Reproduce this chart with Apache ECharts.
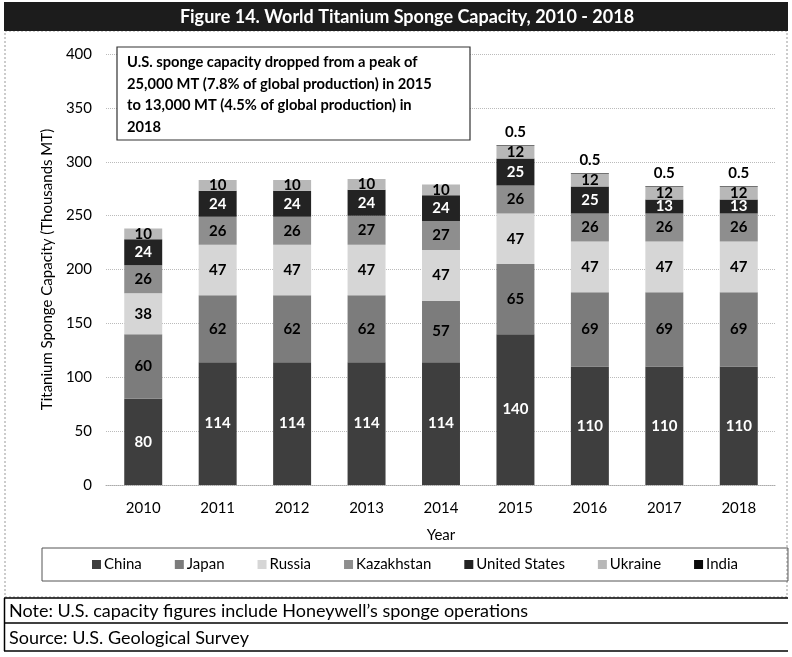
<!DOCTYPE html>
<html>
<head>
<meta charset="utf-8">
<script src="https://cdn.jsdelivr.net/npm/echarts@6/dist/echarts.min.js"></script>
<style>
html,body{margin:0;padding:0;background:#fff;}
#c{width:792px;height:657px;}
</style>
</head>
<body>
<div id="c"></div>
<script>
const years = ['2010','2011','2012','2013','2014','2015','2016','2017','2018'];
const china      = [80, 114, 114, 114, 114, 140, 110, 110, 110];
const japan      = [60, 62, 62, 62, 57, 65, 69, 69, 69];
const russia     = [38, 47, 47, 47, 47, 47, 47, 47, 47];
const kazakhstan = [26, 26, 26, 27, 27, 26, 26, 26, 26];
const us         = [24, 24, 24, 24, 24, 25, 25, 13, 13];
const ukraine    = [10, 10, 10, 10, 10, 12, 12, 12, 12];
const india      = [0, 0, 0, 0, 0, 0.5, 0.5, 0.5, 0.5];
const yTicks = [0, 50, 100, 150, 200, 250, 300, 350, 400];

const FONT = 'Lato, "Liberation Sans", sans-serif';
const chart = echarts.init(document.getElementById('c'));

function mk(name, data, color, labelColor, pos) {
  return {
    name: name, type: 'bar', stack: 'total', data: data, barWidth: '51%',
    itemStyle: { color: color },
    label: {
      show: true, position: pos || 'inside', color: labelColor,
      fontFamily: FONT, fontWeight: 'bold', fontSize: 15,
      formatter: p => (p.value === 0 ? '' : String(p.value))
    }
  };
}

chart.setOption({
  animation: false,
  textStyle: { fontFamily: FONT },
  grid: { left: 106, right: 16, top: 54, bottom: 172 },
  legend: {
    left: 42, top: 548, width: 715,
    padding: [9, 50, 9, 50],
    itemGap: 33, itemWidth: 9, itemHeight: 9,
    borderColor: '#555', borderWidth: 1,
    icon: 'rect',
    textStyle: { fontFamily: FONT, fontSize: 15, color: '#000', padding: [0, 0, 0, -2] },
    data: ['China','Japan','Russia','Kazakhstan','United States','Ukraine','India']
  },
  xAxis: {
    type: 'category', data: years,
    name: 'Year', nameLocation: 'middle', nameGap: 43,
    nameTextStyle: { fontFamily: FONT, fontSize: 15, color: '#000' },
    axisLine: { show: true, lineStyle: { color: '#aaa', type: 'dotted' } },
    axisTick: { show: false },
    axisLabel: { margin: 16, fontFamily: FONT, fontSize: 15, color: '#000' }
  },
  yAxis: {
    type: 'value', min: 0, max: 400, interval: 50,
    name: 'Titanium Sponge Capacity (Thousands MT)', nameLocation: 'middle', nameGap: 49,
    nameTextStyle: { fontFamily: FONT, fontSize: 15, color: '#000' },
    axisLine: { show: false }, axisTick: { show: false },
    axisLabel: { margin: 14, fontFamily: FONT, fontSize: 15, color: '#000',
      formatter: v => (yTicks.indexOf(v) >= 0 ? String(v) : '') },
    splitLine: { lineStyle: { color: '#bbb', type: 'dotted' } }
  },
  series: [
    mk('China', china, '#3e3e3e', '#fff'),
    mk('Japan', japan, '#7c7c7c', '#000'),
    mk('Russia', russia, '#d6d6d6', '#000'),
    mk('Kazakhstan', kazakhstan, '#8e8e8e', '#000'),
    mk('United States', us, '#232323', '#fff'),
    mk('Ukraine', ukraine, '#b8b8b8', '#000'),
    mk('India', india, '#0a0a0a', '#000', 'top')
  ],
  graphic: [
    { type: 'rect', shape: { x: 4, y: 2, width: 784, height: 29 }, style: { fill: '#1c1c1c' }, z: 10 },
    { type: 'text', x: 407, y: 17, style: { text: 'Figure 14. World Titanium Sponge Capacity, 2010 - 2018',
        fill: '#fff', font: 'bold 18px ' + FONT, textAlign: 'center', textVerticalAlign: 'middle' }, z: 11 },
    { type: 'rect', shape: { x: 5, y: 31, width: 782, height: 566 }, style: { fill: 'none', stroke: '#999', lineWidth: 1, lineDash: [2, 2] }, z: 1 },
    { type: 'line', shape: { x1: 4, y1: 598, x2: 788, y2: 598 }, style: { stroke: '#000', lineWidth: 1.5 }, z: 10 },
    { type: 'line', shape: { x1: 4, y1: 623, x2: 788, y2: 623 }, style: { stroke: '#000', lineWidth: 1.5 }, z: 10 },
    { type: 'line', shape: { x1: 4, y1: 651, x2: 788, y2: 651 }, style: { stroke: '#000', lineWidth: 1.5 }, z: 10 },
    { type: 'line', shape: { x1: 4.5, y1: 598, x2: 4.5, y2: 651 }, style: { stroke: '#000', lineWidth: 1.5 }, z: 10 },
    { type: 'text', x: 9, y: 611, style: { text: 'Note: U.S. capacity figures include Honeywell\u2019s sponge operations',
        fill: '#000', font: '18px ' + FONT, textVerticalAlign: 'middle' }, z: 11 },
    { type: 'text', x: 9, y: 638, style: { text: 'Source: U.S. Geological Survey',
        fill: '#000', font: '18px ' + FONT, textVerticalAlign: 'middle' }, z: 11 },
    { type: 'rect', shape: { x: 117, y: 47, width: 353, height: 93 }, style: { fill: '#fff', stroke: '#333', lineWidth: 1.2 }, z: 20 },
    { type: 'text', x: 127, y: 52, style: {
        text: 'U.S. sponge capacity dropped from a peak of\n25,000 MT (7.8% of global production) in 2015\nto 13,000 MT (4.5% of global production) in\n2018',
        fill: '#000', font: 'bold 14.7px ' + FONT, lineHeight: 21.5 }, z: 21 }
  ]
});
</script>
</body>
</html>
